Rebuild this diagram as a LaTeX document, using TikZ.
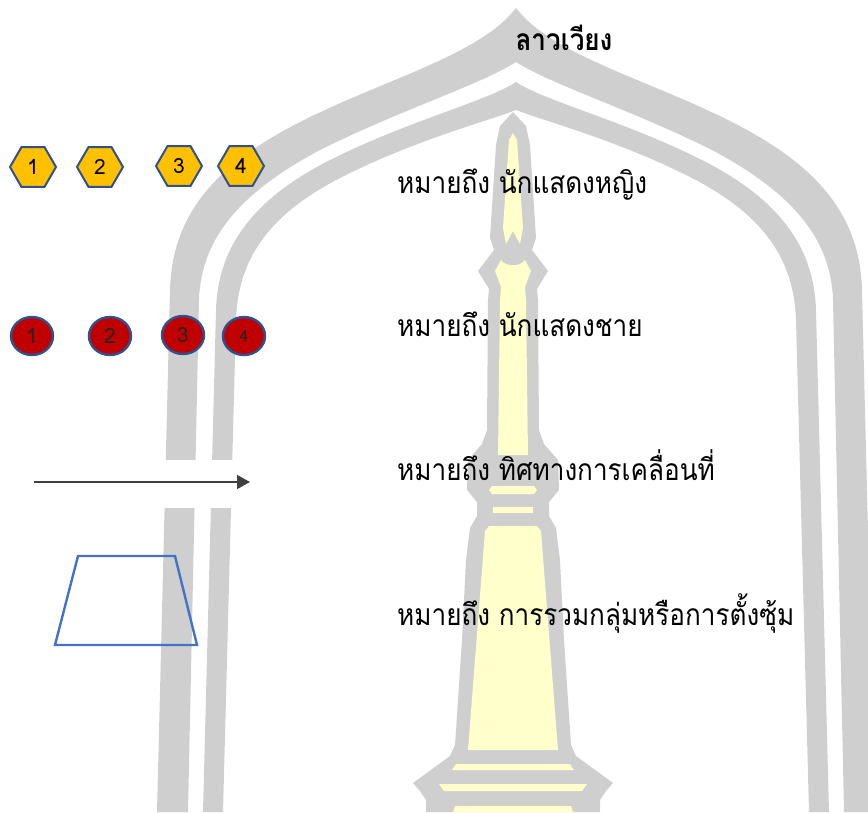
\documentclass[tikz,border=0pt]{standalone}
\usepackage{fontspec}
\usepackage{graphicx}
\usetikzlibrary{shapes.geometric,arrows.meta}
\newfontfamily\thaifont[Script=Thai]{Loma}
\definecolor{archgray}{HTML}{CFCFCF}
\definecolor{spireyellow}{HTML}{FFFFCC}
\definecolor{femalegold}{HTML}{FFC000}
\definecolor{malered}{HTML}{C00000}
\definecolor{rimblue}{HTML}{2F528F}
\definecolor{groupblue}{HTML}{4472C4}
\definecolor{arrowgray}{HTML}{404040}
\newcommand{\legendtext}[1]{{\thaifont\fontsize{30pt}{36pt}\selectfont\scalebox{0.87}[1]{#1}}}
\newcommand{\markdigit}[1]{{\thaifont\fontsize{21pt}{21pt}\selectfont #1}}
\begin{document}
\begin{tikzpicture}[x=1pt,y=-1pt,
  band/.style={fill=archgray,draw=none},
  spirefill/.style={fill=spireyellow,draw=none},
  femalemark/.style={regular polygon,regular polygon sides=6,minimum size=46pt,
    inner sep=0pt,fill=femalegold,draw=rimblue,line width=2pt},
  malemark/.style={ellipse,minimum width=42pt,minimum height=38pt,inner sep=0pt,
    fill=malered,draw=rimblue,line width=2.4pt,text=black!85},
  legendlabel/.style={anchor=base west,inner sep=0pt},
  groupframe/.style={draw=groupblue,line width=2.4pt,line join=miter}]
\useasboundingbox (0,0) rectangle (868,812);
\clip (0,0) rectangle (868,812);

% outer band of the arch
\path[band] (157,812) -- (170,290) .. controls (172,215) and (215,165) .. (300,122)
  .. controls (385,79) and (480,55) .. (516,8)
  .. controls (552,55) and (647,79) .. (732,122)
  .. controls (817,165) and (860,215) .. (862,290) -- (875,812)
  -- (844,812) -- (833,300) .. controls (831,235) and (787,190) .. (712,150)
  .. controls (632,110) and (552,85) .. (516,62)
  .. controls (480,85) and (400,110) .. (320,150)
  .. controls (245,190) and (201,235) .. (199,300) -- (188,812) -- cycle;

% inner band of the arch
\path[band] (203,812) -- (216,310) .. controls (218,245) and (255,198) .. (330,160)
  .. controls (410,120) and (485,102) .. (516,82)
  .. controls (547,102) and (622,120) .. (702,160)
  .. controls (777,198) and (814,245) .. (816,310) -- (829,812)
  -- (809,812) -- (796,320) .. controls (794,258) and (762,214) .. (692,178)
  .. controls (617,140) and (547,122) .. (516,110)
  .. controls (485,122) and (415,140) .. (340,178)
  .. controls (270,214) and (238,258) .. (236,320) -- (223,812) -- cycle;

% white strip behind the direction arrow
\fill[white] (0,460) rectangle (258,508);

% spire silhouette
\path[band] (513,112) -- (500,126) -- (496,145) -- (490,238) -- (494,250) -- (478,271)
  -- (489,289) -- (488,300) -- (487,430) -- (482,444) -- (468,460) -- (467,490)
  -- (477,502) -- (477,516) -- (470,528) -- (466,560) -- (462,640) -- (455,745)
  -- (450,756) -- (413,783) -- (420,791) -- (426,800) -- (426,812)
  -- (600,812) -- (600,800) -- (606,791) -- (613,783) -- (576,756) -- (571,745)
  -- (564,640) -- (560,560) -- (556,528) -- (549,516) -- (549,502) -- (559,490)
  -- (558,460) -- (544,444) -- (539,430) -- (538,300) -- (537,289) -- (548,271)
  -- (532,250) -- (536,238) -- (530,145) -- (526,126) -- cycle;

% spire yellow panels
\path[spirefill] (513,133) -- (517,140) -- (523,228) -- (520,244) -- (513,231)
  -- (506,244) -- (503,228) -- (509,140) -- cycle;
\path[spirefill] (501,260) -- (495,271) -- (501,287) -- (500,300) -- (498,455)
  -- (528,455) -- (526,300) -- (525,287) -- (531,271) -- (525,260)
  .. controls (520,267) and (506,267) .. (501,260) -- cycle;
\path[spirefill] (492,486) -- (534,486) -- (537,490) -- (534,494) -- (492,494)
  -- (489,490) -- cycle;
\path[spirefill] (493,507) rectangle (533,513);
\path[spirefill] (489,526) -- (537,526) -- (541,531) -- (558,750) -- (468,750)
  -- (485,531) -- cycle;
\path[spirefill] (456,764) -- (570,764) -- (574,770) -- (452,770) -- cycle;
\path[spirefill] (439,784) -- (587,784) -- (582,791) -- (444,791) -- cycle;
\path[spirefill] (455,806) -- (571,806) -- (573,812) -- (453,812) -- cycle;

% female dancers
\node[femalemark] (f1) at (33,167) {\markdigit{1}};
\node[femalemark] (f2) at (100,167) {\markdigit{2}};
\node[femalemark] (f3) at (179,166) {\markdigit{3}};
\node[femalemark] (f4) at (241,166) {\markdigit{4}};

% male dancers
\node[malemark] (m1) at (32,336) {\markdigit{1}};
\node[malemark] (m2) at (110,336) {\markdigit{2}};
\node[malemark] (m3) at (183,335) {\markdigit{3}};
\node[malemark] (m4) at (244,336) {{\thaifont\fontsize{15pt}{15pt}\selectfont 4}};

% direction of movement
\coordinate (arrS) at (34,482);
\coordinate (arrE) at (250,482);
\draw[-{Triangle[length=13pt,width=14pt]},line width=1.4pt,draw=arrowgray,fill=black]
  (arrS) -- (arrE);

% grouping frame
\draw[groupframe] (78,556) -- (175,556) -- (197,645) -- (55,645) -- cycle;

% title and legend labels
\node[anchor=base,inner sep=0pt] (title) at (564,50)
  {{\thaifont\bfseries\fontsize{30pt}{36pt}\selectfont\scalebox{0.87}[1]{ลาวเวียง}}};
\node[legendlabel] (lblF) at (397,193) {\legendtext{หมายถึง นักแสดงหญิง}};
\node[legendlabel] (lblM) at (397,336) {\legendtext{หมายถึง นักแสดงชาย}};
\node[legendlabel] (lblD) at (397,480) {\legendtext{หมายถึง ทิศทางการเคลื่อนที่}};
\node[legendlabel] (lblG) at (397,625) {\legendtext{หมายถึง การรวมกลุ่มหรือการตั้งซุ้ม}};
\end{tikzpicture}
\end{document}
